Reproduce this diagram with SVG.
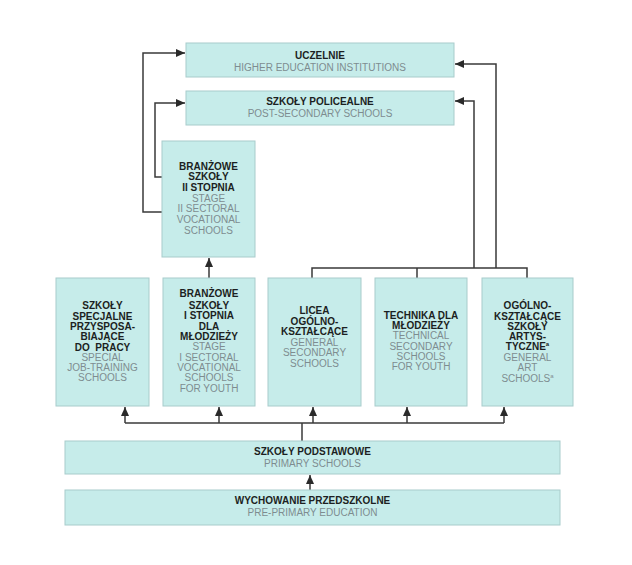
<svg xmlns="http://www.w3.org/2000/svg" width="632" height="565" viewBox="0 0 632 565">
<style>
.box{fill:#c6ecea;stroke:#a8cccb;stroke-width:1}
text{font-family:"Liberation Sans",Arial,sans-serif;font-size:10px;text-anchor:middle}
.b{font-weight:bold;fill:#1c1f22}
.e{fill:#7e8c90}
.c{fill:none;stroke:#3a3a3a;stroke-width:1.5}
</style>
<defs>
<marker id="ah" markerUnits="userSpaceOnUse" markerWidth="10" markerHeight="10" viewBox="0 0 10 10" refX="9" refY="5" orient="auto">
<path d="M0,1 L9,5 L0,9 Z" fill="#2a2a2a"/>
</marker>
</defs>
<rect width="632" height="565" fill="#fff"/>
<g id="connectors">
<path class="c" d="M162,212 H143 V53 H185" marker-end="url(#ah)"/>
<path class="c" d="M162,177 H155 V103 H185" marker-end="url(#ah)"/>
<path class="c" d="M312,278 V268 H527 V278"/>
<path class="c" d="M417,268 V278"/>
<path class="c" d="M496,268 V64 H455" marker-end="url(#ah)"/>
<path class="c" d="M474,268 V101 H455" marker-end="url(#ah)"/>
<path class="c" d="M209,278 V258" marker-end="url(#ah)"/>
<path class="c" d="M125,423 H504"/>
<path class="c" d="M302,441 V423"/>
<path class="c" d="M125,423 V407" marker-end="url(#ah)"/>
<path class="c" d="M219,423 V407" marker-end="url(#ah)"/>
<path class="c" d="M313,423 V407" marker-end="url(#ah)"/>
<path class="c" d="M407,423 V407" marker-end="url(#ah)"/>
<path class="c" d="M504,423 V407" marker-end="url(#ah)"/>
<path class="c" d="M310,490 V475" marker-end="url(#ah)"/>
</g>
<g id="uczelnie">
<rect class="box" x="186" y="43" width="268" height="34"/>
<text x="320" y="58.5" class="b">UCZELNIE</text>
<text x="320" y="70.5" class="e">HIGHER EDUCATION INSTITUTIONS</text>
</g>
<g id="policealne">
<rect class="box" x="186" y="91" width="268" height="34"/>
<text x="320" y="104.5" class="b">SZKOŁY POLICEALNE</text>
<text x="320" y="116.5" class="e">POST-SECONDARY SCHOOLS</text>
</g>
<g id="branzowe2">
<rect class="box" x="162" y="141" width="93" height="116"/>
<text x="208.5" y="169.5" class="b">BRANŻOWE</text>
<text x="208.5" y="180.2" class="b">SZKOŁY</text>
<text x="208.5" y="190.8" class="b">II STOPNIA</text>
<text x="208.5" y="201.5" class="e">STAGE</text>
<text x="208.5" y="212.2" class="e">II SECTORAL</text>
<text x="208.5" y="222.8" class="e">VOCATIONAL</text>
<text x="208.5" y="233.5" class="e">SCHOOLS</text>
</g>
<g id="specjalne">
<rect class="box" x="56" y="278" width="93" height="128"/>
<text x="102.5" y="309.2" class="b">SZKOŁY</text>
<text x="102.5" y="319.5" class="b">SPECJALNE</text>
<text x="102.5" y="329.8" class="b">PRZYSPOSA-</text>
<text x="102.5" y="340.2" class="b">BIAJĄCE</text>
<text x="102.5" y="350.5" class="b" xml:space="preserve">DO  PRACY</text>
<text x="102.5" y="360.8" class="e">SPECIAL</text>
<text x="102.5" y="371.1" class="e">JOB-TRAINING</text>
<text x="102.5" y="381.4" class="e">SCHOOLS</text>
</g>
<g id="branzowe1">
<rect class="box" x="163" y="278" width="92" height="128"/>
<text x="209" y="296.8" class="b">BRANŻOWE</text>
<text x="209" y="308.5" class="b">SZKOŁY</text>
<text x="209" y="319.2" class="b">I STOPNIA</text>
<text x="209" y="329.5" class="b">DLA</text>
<text x="209" y="339.8" class="b">MŁODZIEŻY</text>
<text x="209" y="350.2" class="e">STAGE</text>
<text x="209" y="360.5" class="e">I SECTORAL</text>
<text x="209" y="370.8" class="e">VOCATIONAL</text>
<text x="209" y="381.2" class="e">SCHOOLS</text>
<text x="209" y="391.5" class="e">FOR YOUTH</text>
</g>
<g id="licea">
<rect class="box" x="268" y="278" width="93" height="128"/>
<text x="314.5" y="314.2" class="b">LICEA</text>
<text x="314.5" y="324.5" class="b">OGÓLNO-</text>
<text x="314.5" y="335.2" class="b">KSZTAŁCĄCE</text>
<text x="314.5" y="345.8" class="e">GENERAL</text>
<text x="314.5" y="356.2" class="e">SECONDARY</text>
<text x="314.5" y="366.5" class="e">SCHOOLS</text>
</g>
<g id="technika">
<rect class="box" x="375" y="278" width="92" height="128"/>
<text x="421" y="318.5" class="b">TECHNIKA DLA</text>
<text x="421" y="328.8" class="b">MŁODZIEŻY</text>
<text x="421" y="339.2" class="e">TECHNICAL</text>
<text x="421" y="349.5" class="e">SECONDARY</text>
<text x="421" y="359.8" class="e">SCHOOLS</text>
<text x="421" y="370.2" class="e">FOR YOUTH</text>
</g>
<g id="artystyczne">
<rect class="box" x="482" y="278" width="91" height="128"/>
<text x="527.5" y="309.2" class="b">OGÓLNO-</text>
<text x="527.5" y="320.2" class="b">KSZTAŁCĄCE</text>
<text x="527.5" y="330.2" class="b">SZKOŁY</text>
<text x="527.5" y="340.2" class="b">ARTYS-</text>
<text x="527.5" y="350.2" class="b">TYCZNE<tspan font-size="6" dy="-4">a</tspan></text>
<text x="527.5" y="360.8" class="e">GENERAL</text>
<text x="527.5" y="371.2" class="e">ART</text>
<text x="527.5" y="381.8" class="e">SCHOOLS<tspan font-size="6" dy="-4">a</tspan></text>
</g>
<g id="podstawowe">
<rect class="box" x="65" y="441" width="495" height="33"/>
<text x="312.5" y="455.2" class="b">SZKOŁY PODSTAWOWE</text>
<text x="312.5" y="466.8" class="e">PRIMARY SCHOOLS</text>
</g>
<g id="przedszkolne">
<rect class="box" x="65" y="490" width="495" height="35"/>
<text x="312.5" y="504.2" class="b">WYCHOWANIE PRZEDSZKOLNE</text>
<text x="312.5" y="516.2" class="e">PRE-PRIMARY EDUCATION</text>
</g>
</svg>
